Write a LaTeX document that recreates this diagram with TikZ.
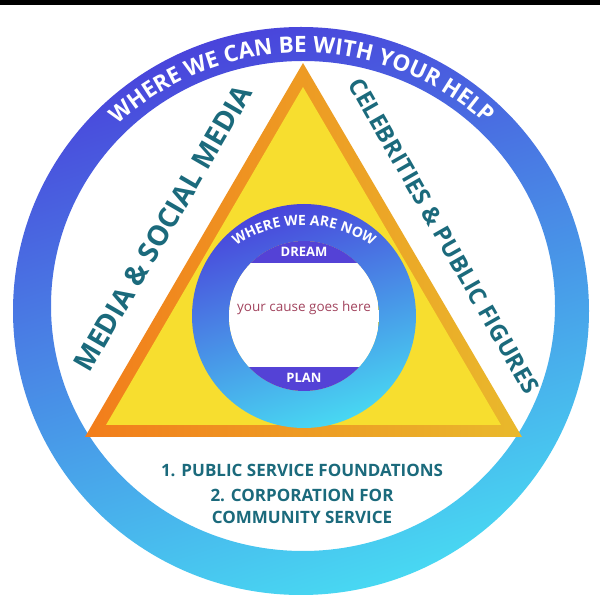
\documentclass[tikz,border=0pt]{standalone}
\usepackage{fontspec}
\setmainfont{Open Sans}
\usetikzlibrary{positioning,decorations.text,calc}

\definecolor{ringtop}{HTML}{4944DB}
\definecolor{ringmid}{HTML}{4C8CEA}
\definecolor{ringbot}{HTML}{48D8F2}
\definecolor{tealtext}{HTML}{1B6A7C}
\definecolor{triorange}{HTML}{F27D1B}
\definecolor{trigold}{HTML}{E9B92C}
\definecolor{triyellow}{HTML}{F7DE2F}
\definecolor{capviolet}{HTML}{5442D6}
\definecolor{causered}{HTML}{A2445E}

\begin{document}
\begin{tikzpicture}[x=1pt, y=1pt,
  ringshade/.style={even odd rule, top color=ringtop, middle color=ringmid, bottom color=ringbot, shading angle=18},
  sidetext/.style={text=tealtext, inner sep=0pt, font=\bfseries\fontsize{#1}{#1}\selectfont},
  listtext/.style={text=tealtext, inner sep=0pt, align=center, font=\bfseries\fontsize{17}{22}\selectfont},
  captext/.style={text=white, inner sep=0pt, font=\bfseries\fontsize{13}{13}\selectfont}
]
\useasboundingbox (0,0) rectangle (600,600);
\fill[white] (0,0) rectangle (600,600);
\fill[black] (0,595) rectangle (600,600);

% outer ring
\shade[ringshade] (301,289) ellipse[x radius=288, y radius=284]
  (303,294) ellipse[x radius=252, y radius=245];
\path[decorate, decoration={text along path, text align=center, text color=white,
  text={|\bfseries\fontsize{22.5}{22.5}\selectfont|WHERE WE CAN BE WITH YOUR HELP}}]
  (302,291) ++(160:266 and 256) arc[start angle=160, end angle=20, x radius=266, y radius=256];

% triangle
\coordinate (apex) at (303,537);
\coordinate (bl) at (85,163);
\coordinate (br) at (522,163);
\shade[left color=triorange, right color=trigold] (bl) -- (br) -- (apex) -- cycle;
\fill[triyellow] (106,175) -- (501,175) -- (303,513) -- cycle;

% inner ring and disc
\coordinate (mid) at (304,284);
\shade[ringshade] (mid) circle[radius=112] (mid) circle[radius=75];
\begin{scope}
  \clip (mid) circle[radius=75];
  \fill[capviolet] (229,337) rectangle (379,360);
  \fill[white] (229,233) rectangle (379,337);
  \fill[capviolet] (229,208) rectangle (379,233);
\end{scope}
\path[decorate, decoration={text along path, text align=center, text color=white,
  text={|\bfseries\fontsize{14}{14}\selectfont|WHERE WE ARE NOW}}]
  (304,255) ++(140:120) arc[start angle=140, end angle=40, radius=120];

\node[captext] (dream) at (304,348) {DREAM};
\node[captext] (plan) at (304,222) {PLAN};
\node[text=causered, inner sep=0pt, font=\fontsize{13.5}{13.5}\selectfont] (cause) at (304,292) {your cause goes here};

% side labels
\node[sidetext=28, rotate=59.8] (media) at (163,372) {MEDIA \& SOCIAL MEDIA};
\node[sidetext=23.5, rotate=-60.3] (celeb) at (444,364) {CELEBRITIES \& PUBLIC FIGURES};

% list below the triangle
\node[listtext] (found) at (302,130) {1. PUBLIC SERVICE FOUNDATIONS};
\node[listtext] (corp) at (302,94) {2. CORPORATION FOR\\COMMUNITY SERVICE};
\end{tikzpicture}
\end{document}
